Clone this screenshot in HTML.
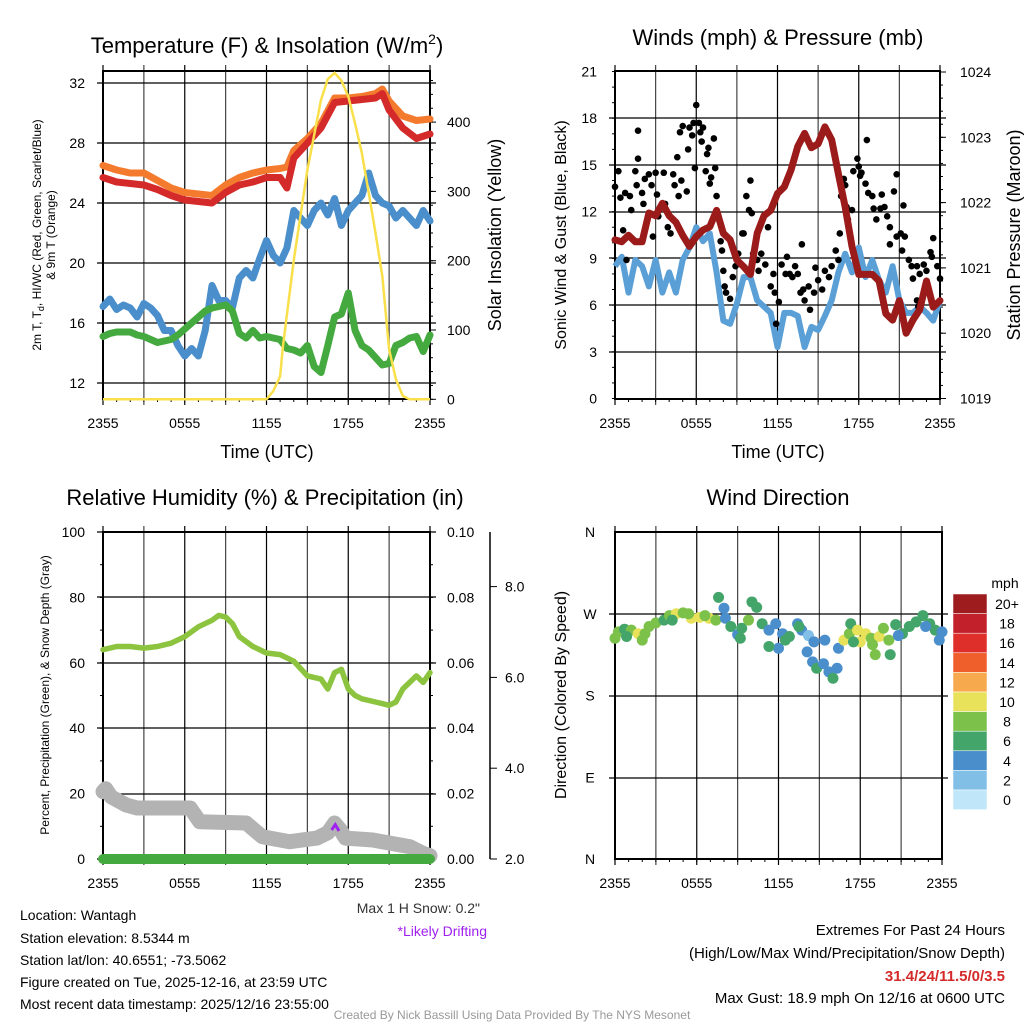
<!DOCTYPE html>
<html><head><meta charset="utf-8">
<style>
html,body{margin:0;padding:0;background:#fff;}
svg{display:block;font-family:"Liberation Sans",Arial,sans-serif;}
</style></head>
<body>
<svg id="s" width="1024" height="1024" viewBox="0 0 1024 1024" xmlns="http://www.w3.org/2000/svg">
<g id="texts">
<text x="267" y="53" font-size="22" text-anchor="middle">Temperature (F) &amp; Insolation (W/m<tspan dy="-9" font-size="14">2</tspan><tspan dy="9">)</tspan></text>
<text x="778" y="45" font-size="22" text-anchor="middle">Winds (mph) &amp; Pressure (mb)</text>
<text x="265" y="505" font-size="22" text-anchor="middle">Relative Humidity (%) &amp; Precipitation (in)</text>
<text x="778" y="505" font-size="22" text-anchor="middle">Wind Direction</text>
<text x="267" y="458" font-size="18" text-anchor="middle">Time (UTC)</text>
<text x="778" y="458" font-size="18" text-anchor="middle">Time (UTC)</text>
<text transform="translate(41,235) rotate(-90)" font-size="12" text-anchor="middle">2m T, T<tspan dy="3" font-size="9">d</tspan><tspan dy="-3">, HI/WC (Red, Green, Scarlet/Blue)</tspan></text>
<text transform="translate(55,235) rotate(-90)" font-size="12" text-anchor="middle">&amp; 9m T (Orange)</text>
<text transform="translate(501,235) rotate(-90)" font-size="18" text-anchor="middle">Solar Insolation (Yellow)</text>
<text transform="translate(566,235) rotate(-90)" font-size="16" text-anchor="middle">Sonic Wind &amp; Gust (Blue, Black)</text>
<text transform="translate(1020,235) rotate(-90)" font-size="18" text-anchor="middle">Station Pressure (Maroon)</text>
<text transform="translate(49,695) rotate(-90)" font-size="12" text-anchor="middle">Percent, Precipitation (Green), &amp; Snow Depth (Gray)</text>
<text transform="translate(566,695) rotate(-90)" font-size="16" text-anchor="middle">Direction (Colored By Speed)</text>
<text x="480" y="913" font-size="14" text-anchor="end" fill="#333">Max 1 H Snow: 0.2"</text>
<text x="487" y="936" font-size="14" text-anchor="end" fill="#a020f0">*Likely Drifting</text>
<text x="20" y="920" font-size="14">Location: Wantagh</text>
<text x="20" y="943" font-size="14">Station elevation: 8.5344 m</text>
<text x="20" y="965" font-size="14">Station lat/lon: 40.6551; -73.5062</text>
<text x="20" y="987" font-size="14">Figure created on Tue, 2025-12-16, at 23:59 UTC</text>
<text x="20" y="1009" font-size="14">Most recent data timestamp: 2025/12/16 23:55:00</text>
<text x="1005" y="935" font-size="15" text-anchor="end">Extremes For Past 24 Hours</text>
<text x="1005" y="958" font-size="15" text-anchor="end">(High/Low/Max Wind/Precipitation/Snow Depth)</text>
<text x="1005" y="981" font-size="15" font-weight="bold" text-anchor="end" fill="#d42a2a">31.4/24/11.5/0/3.5</text>
<text x="1005" y="1003" font-size="15" text-anchor="end">Max Gust: 18.9 mph On 12/16 at 0600 UTC</text>
<text x="512" y="1019" font-size="12" text-anchor="middle" fill="#999">Created By Nick Bassill Using Data Provided By The NYS Mesonet</text>
<text x="1005" y="588" font-size="14" text-anchor="middle">mph</text>
</g>
</svg>
<script>
// ---------- data ----------
const hours = [0,0.5,1,1.5,2,2.5,3,3.5,4,4.5,5,5.5,6,6.5,7,7.5,8,8.5,9,9.5,10,10.5,11,11.5,12,12.5,13,13.5,14,14.5,15,15.5,16,16.5,17,17.5,18,18.5,19,19.5,20,20.5,21,21.5,22,22.5,23,23.5,24];
const hourly = [0,1,2,3,4,5,6,7,8,9,10,11,12,13,13.5,14,15,16,17,18,19,20,20.5,21,22,23,24];
const temp9m = [26.5,26.2,26.0,26.0,25.5,25.0,24.7,24.6,24.5,25.2,25.7,26.0,26.2,26.3,26.4,27.5,28.3,29.3,31.0,31.0,31.1,31.3,31.6,30.8,29.8,29.5,29.6];
const temp2m = [25.7,25.4,25.3,25.2,24.9,24.5,24.2,24.1,24.0,24.7,25.2,25.4,25.7,25.7,25.0,27.0,28.0,29.0,30.7,30.8,30.9,31.0,31.3,30.2,29.0,28.3,28.6];
const windChill = [17.1,17.6,16.9,17.2,17.0,16.4,17.3,17.0,16.5,15.5,15.5,14.5,13.8,14.3,13.8,15.5,18.5,17.5,17.5,17.0,19.0,19.5,19.0,20.3,21.5,20.5,20.0,21.0,23.5,23.0,22.5,23.5,24.0,23.2,24.3,22.5,23.5,24.0,24.5,26.0,24.5,24.0,23.8,23.0,23.5,23.0,22.5,23.5,22.8];
const dewpoint = [15.1,15.3,15.4,15.4,15.4,15.2,15.1,14.9,14.7,14.8,14.9,15.2,15.6,16.0,16.4,16.8,17.0,17.1,17.2,16.8,15.3,15.0,15.5,15.0,15.1,15.0,14.9,14.3,14.2,14.0,14.5,13.1,12.7,14.5,16.4,16.6,18.0,15.5,14.5,14.2,13.7,13.2,13.3,14.5,14.7,15.0,15.1,14.1,15.2];
const solarT = [0,12,12.5,13,13.2,14,15,16,16.5,17,17.5,18,18.5,19,19.5,20,20.5,21,21.5,22,22.5,24];
const solarV = [0,0,12,33,76,201,331,432,462,471,460,437,398,355,298,240,178,72,29,5,0,0];
const windSpd = [8.5,9.1,6.8,8.9,8.5,7.2,8.9,6.8,8.1,6.8,8.9,9.7,11.0,10.1,10.6,8.1,5.0,4.8,6.1,7.8,7.8,6.3,5.9,5.5,3.3,5.5,5.5,5.3,3.3,4.6,4.4,5.3,6.3,8.1,9.3,8.1,9.7,7.8,8.9,7.6,6.8,8.5,6.3,5.5,5.5,5.9,5.5,5.0,6.3];
const pressure = [1021.43,1021.4,1021.5,1021.4,1021.4,1021.84,1021.8,1021.99,1021.8,1021.7,1021.5,1021.33,1021.48,1021.58,1021.63,1021.88,1021.53,1021.43,1021.12,1021.02,1020.9,1021.53,1021.8,1021.88,1022.14,1022.24,1022.5,1022.86,1023.06,1022.84,1022.9,1023.16,1022.96,1022.44,1021.93,1021.33,1020.9,1020.9,1020.9,1020.8,1020.3,1020.2,1020.5,1020.0,1020.2,1020.36,1020.8,1020.4,1020.5];
const gustT = [0,0.25,0.4,0.6,0.85,0.75,1.1,1.2,1.5,1.6,1.7,1.7,2.0,2.1,2.2,2.5,2.7,2.8,3.0,3.1,3.2,3.6,3.7,3.9,4.1,4.3,4.4,4.6,4.7,4.8,4.9,5.0,5.3,5.4,5.5,5.7,5.8,5.9,6.0,6.2,6.3,6.4,6.5,6.7,6.8,6.9,7.0,7.1,7.3,7.4,7.5,7.8,7.9,8.0,8.1,8.2,8.5,8.7,8.9,9.1,9.4,9.5,9.7,9.9,10.0,10.1,10.2,10.5,10.6,10.8,11.1,11.3,11.5,11.7,11.8,11.9,12.1,12.3,12.6,12.7,12.9,13.1,13.3,13.5,13.7,13.8,13.9,14.0,14.3,14.4,14.7,14.8,15.0,15.3,15.5,15.8,16.0,16.3,16.5,16.6,16.7,16.9,17.0,17.1,17.2,17.5,17.6,17.9,18.0,18.1,18.2,18.5,18.6,18.7,19.0,19.1,19.3,19.6,19.7,19.9,20.1,20.3,20.3,20.6,20.8,20.8,21.1,21.2,21.3,21.4,21.7,21.9,22.0,22.3,22.5,22.8,23.0,23.3,23.4,23.5,23.8,24,22.3,22.4];
const gustV = [13.6,14.6,12.9,10.8,8.9,13.2,13.0,12.1,14.6,13.7,17.2,15.4,13.2,12.5,14.1,14.4,13.7,10.4,14.5,13.1,11.7,14.5,12.5,11.0,10.6,14.4,13.7,15.5,13.0,17.1,14.0,17.5,13.3,16.0,17.4,16.9,17.7,14.8,18.85,17.7,17.1,16.5,17.4,14.6,15.7,16.1,13.8,14.2,16.7,14.8,13.0,10.1,9.5,8.2,7.2,6.8,6.4,7.8,8.5,9.3,10.6,10.6,13.0,12.1,14.0,11.9,9.3,8.9,8.2,9.3,8.6,11.0,7.2,8.0,6.8,4.8,6.2,8.6,8.0,9.1,8.0,7.8,8.5,8.0,6.8,9.9,7.0,6.3,7.2,5.7,6.8,8.4,7.6,7.0,8.2,7.8,8.5,9.5,8.9,10.6,13.0,14.1,13.7,12.3,11.5,12.1,14.6,15.4,14.9,14.3,14.5,13.8,16.6,13.2,13.0,12.2,11.5,12.2,13.1,12.3,11.7,11.0,9.9,13.3,14.4,10.4,10.6,9.5,12.4,10.4,8.9,8.5,7.7,8.5,8.0,8.6,8.2,9.4,9.1,10.3,8.5,7.7,6.3,5.9];
const rhT = [0,1,2,3,4,5,6,7,8,8.5,9,9.5,10,11,11.5,12,13,14,15,16,16.5,17,17.5,18,18.5,19,20,21,21.5,22,23,23.5,24];
const rhV = [64,65,65,64.5,65,66,68,71,73,74.5,74,72,68,65,64,63,62.5,60.5,56,55,52,57,58,52,50,49,48,47,48,52,56,54,57];
const snowT = [0,0.2,0.6,1.7,2.5,6.4,7.1,10.5,11.7,13.7,15.7,16.5,17.0,17.4,17.8,19.8,21.1,22.5,23.5,24];
const snowPct = [20.6,21.5,19,16.5,15.6,15.6,11.4,11,6.8,5.3,6.4,8,11,9,6.4,5.8,4.8,3.8,1.7,1.0];
const precipT = [0,24];
const precipV = [0,0];
const dirT = [0,0.25,0.7,1.2,1.7,2.2,2.5,3.0,3.6,4.0,4.5,5.0,5.6,6.2,6.9,7.4,7.6,8.0,8.1,8.5,9.0,9.3,9.8,10.05,10.4,10.8,11.3,11.8,12.0,11.3,12.3,12.8,13.4,13.7,14.2,14.6,14.1,14.5,14.8,15.3,15.4,15.7,16.0,16.3,16.4,16.8,17.2,17.3,17.8,18.0,18.4,18.8,19.1,19.4,19.7,20.1,20.2,20.6,21.1,21.6,22.1,22.6,23.1,23.5,23.8,24,0.85,2.0,4.2,5.4,6.6,9.2,12.5,13.5,17.5,18.9,20.8,22.8];
const dirDeg = [243,250,253,252,248,248,256,260,263,268,270,271,265,266,265,263,288,276,265,256,247,254,263,283,277,259,252,259,232,234,248,245,259,252,246,239,228,217,210,215,241,206,199,210,232,241,248,259,252,239,248,243,225,245,254,241,225,258,248,256,261,268,259,252,241,250,245,241,263,270,268,243,241,256,239,236,246,256];
const dirSpd = [9,9,7,9,11,9,9,9,7,9,11,9,11,11,11,9,7,5,5,7,5,7,9,7,7,7,5,5,5,7,5,7,5,5,3,5,5,5,7,5,5,5,7,5,5,11,9,7,11,11,11,9,9,11,9,9,7,7,7,7,7,7,7,7,5,5,7,9,7,9,9,7,7,7,7,9,5,5];
const cbLabels = ["20+","18","16","14","12","10","8","6","4","2","0"];
const cbColors = ["#9e1b1e","#c2202a","#df2f2a","#ef5f2c","#f7a94d","#e8e25a","#7cc149","#44a56a","#4a8fcb","#82bfe7","#bfe7f9"];

// ---------- helpers ----------
const NS = "http://www.w3.org/2000/svg";
const svg = document.getElementById('s');
function mk(tag, attrs, parent){
  const e = document.createElementNS(NS, tag);
  for (const k in attrs) e.setAttribute(k, attrs[k]);
  (parent||svg).appendChild(e);
  return e;
}
function grp(name){
  const g = mk('g', {});
  
  
  return g;
}
function txt(g, x, y, s, size, anchor){
  const t = mk('text', {x:x, y:y, 'font-size':size, 'text-anchor':anchor||'middle'}, g);
  t.textContent = s;
  return t;
}
function pathFrom(xs, ys, fx, fy){
  let d = '';
  for (let i=0;i<xs.length;i++) d += (i?'L':'M') + fx(xs[i]).toFixed(1) + ' ' + fy(ys[i]).toFixed(1);
  return d;
}

function panel(name, x0, x1, y0, y1){
  return {name, x0, x1, y0, y1, tx: t => x0 + t*(x1-x0)/24};
}
const P1 = panel('temp', 103, 430, 71, 399);
const P2 = panel('wind', 615, 940, 71, 399);
const P3 = panel('rh', 103, 430, 532, 859);
const P4 = panel('winddir', 615, 942, 532, 859);

function frame(P, ticksY){
  const g = grp(P.name + '-axes');
  for (let h=0; h<=24; h+=3){
    const x = P.tx(h);
    mk('line', {x1:x, y1:P.y0-6, x2:x, y2:P.y1+6, stroke: (h%6===0)?'#000':'#444', 'stroke-width':1.2}, g);
  }
  for (let h=0; h<=24; h++){
    const x = P.tx(h);
    mk('line', {x1:x, y1:P.y1, x2:x, y2:P.y1+3, stroke:'#000', 'stroke-width':1}, g);
  }
  ticksY.forEach(y => {
    mk('line', {x1:P.x0-6, y1:y, x2:P.x1+6, y2:y, stroke:'#000', 'stroke-width':1.3}, g);
  });
  mk('rect', {x:P.x0, y:P.y0, width:P.x1-P.x0, height:P.y1-P.y0, fill:'none', stroke:'#000', 'stroke-width':2}, g);
  const lab = ['2355','0555','1155','1755','2355'];
  lab.forEach((s,i) => {
    const t = txt(g, P.tx(i*6), P.y1 + 29, s, 14);
    
    
  });
  return g;
}

// ---------- Panel 1 ----------
const y1T = v => 383 - (v-12)*15;
const y1S = v => 399.3 - v*0.693;
{
  const g = frame(P1, [83,143,203,263,323,383]);
  [12,16,20,24,28,32].forEach(v => { const t=txt(g, 85, y1T(v)+5, String(v), 14, 'end');   });
  [0,100,200,300,400].forEach(v => {
    mk('line', {x1:P1.x1, y1:y1S(v), x2:P1.x1+6, y2:y1S(v), stroke:'#000'}, g);
    const t=txt(g, 447, y1S(v)+5, String(v), 14, 'start');  
  });
  for (let v=0; v<=460; v+=20){ mk('line', {x1:P1.x1, y1:y1S(v), x2:P1.x1+3, y2:y1S(v), stroke:'#000'}, g); }
  const series = [
    ['windchill-line', hours, windChill, '#4a8fcb', 7],
    ['dewpoint-line', hours, dewpoint, '#44aa3f', 7],
    ['temp9m-line', hourly, temp9m, '#f47b2e', 7],
    ['temp2m-line', hourly, temp2m, '#d42a2a', 7]
  ];
  series.forEach(s => {
    const p = mk('path', {d:pathFrom(s[1], s[2], P1.tx, y1T), fill:'none', stroke:s[3], 'stroke-width':s[4], 'stroke-linejoin':'round', 'stroke-linecap':'round'});
    
    
  });
  const sp = mk('path', {d:pathFrom(solarT, solarV, P1.tx, y1S), fill:'none', stroke:'#f9e04b', 'stroke-width':2.5});
  
  
}

// ---------- Panel 2 ----------
const y2W = v => 398.5 - v*15.57;
const y2P = v => 398.5 - (v-1019)*65.3;
{
  const g = frame(P2, [118,165,212,258,305,352]);
  for (let v=0; v<=21; v+=3){ const t=txt(g, 597, y2W(v)+5, String(v), 14, 'end');   }
  for (let v=1019; v<=1024; v++){
    mk('line', {x1:P2.x1, y1:y2P(v), x2:P2.x1+6, y2:y2P(v), stroke:'#000'}, g);
    const t=txt(g, 960, y2P(v)+5, String(v), 14, 'start');  
  }
  for (let v=1019; v<=1024; v+=0.2){ mk('line', {x1:P2.x1, y1:y2P(v), x2:P2.x1+3, y2:y2P(v), stroke:'#000'}, g); }
  for (let v=0; v<=21; v+=1){ mk('line', {x1:P2.x0-3, y1:y2W(v), x2:P2.x0, y2:y2W(v), stroke:'#000'}, g); }
  const wp = mk('path', {d:pathFrom(hours, windSpd, P2.tx, y2W), fill:'none', stroke:'#5a9fd6', 'stroke-width':6, 'stroke-linejoin':'round'});
  
  
  const gg = grp('gust-points');
  for (let i=0;i<gustT.length;i++){
    const c = mk('circle', {cx:P2.tx(gustT[i]), cy:y2W(gustV[i]), r:3.3, fill:'#000'}, gg);
    
    
  }
  const pp = mk('path', {d:pathFrom(hours, pressure, P2.tx, y2P), fill:'none', stroke:'#9b1a1a', 'stroke-width':7, 'stroke-linejoin':'round', 'stroke-linecap':'round'});
  
  
}

// ---------- Panel 3 ----------
const y3 = v => 859 - v*3.27;
const y3S = v => 859 - (v-2)*45.4;
{
  const g = frame(P3, [532,597,663,728,794,859]);
  for (let v=0; v<=100; v+=20){ const t=txt(g, 85, y3(v)+5, String(v), 14, 'end');   }
  ['0.00','0.02','0.04','0.06','0.08','0.10'].forEach((s,i) => { const t=txt(g, 447, y3(i*20)+5, s, 14, 'start');   });
  for (let v=0; v<=100; v+=10){ mk('line', {x1:P3.x1, y1:y3(v), x2:P3.x1+3, y2:y3(v), stroke:'#000'}, g); mk('line', {x1:P3.x0-3, y1:y3(v), x2:P3.x0, y2:y3(v), stroke:'#000'}, g); }
  const ax = grp('snow-depth-axis');
  mk('line', {x1:490, y1:532, x2:490, y2:859, stroke:'#000', 'stroke-width':1.5}, ax);
  for (let v=2; v<=9; v+=2){ mk('line', {x1:490, y1:y3S(v), x2:497, y2:y3S(v), stroke:'#000'}, ax); const t=txt(ax, 505, y3S(v)+5, v.toFixed(1), 14, 'start');   }
  const sp = mk('path', {d:pathFrom(snowT, snowPct, P3.tx, y3), fill:'none', stroke:'#b3b3b3', 'stroke-width':15, 'stroke-linejoin':'round', 'stroke-linecap':'round'});
  
  
  const dr = mk('path', {d:'M'+(P3.tx(17.0)-3)+' '+(y3(9.5)+2)+' L'+P3.tx(17.05)+' '+y3(10.5)+' L'+(P3.tx(17.1)+3)+' '+(y3(9.5)+3), fill:'none', stroke:'#a020f0', 'stroke-width':3});
  
  
  const pr = mk('path', {d:pathFrom(precipT, precipV, P3.tx, y3), fill:'none', stroke:'#44aa3f', 'stroke-width':10, 'stroke-linecap':'round'});
  
  
  const rh = mk('path', {d:pathFrom(rhT, rhV, P3.tx, y3), fill:'none', stroke:'#8cc43f', 'stroke-width':5.5, 'stroke-linejoin':'round', 'stroke-linecap':'round'});
  
  
}

// ---------- Panel 4 ----------
const y4 = d => 859 - d*327/360;
function spdColor(s){ const idx = Math.min(10, Math.floor(s/2)); return cbColors[10-idx]; }
{
  const g = frame(P4, [614,696,778]);
  [['N',360],['W',270],['S',180],['E',90],['N',0]].forEach(a => { const t=txt(g, 590, y4(a[1])+5, a[0], 14);   });
  const dg = grp('direction-points');
  for (let i=0;i<dirT.length;i++){
    const c = mk('circle', {cx:P4.tx(dirT[i]), cy:y4(dirDeg[i]), r:5.5, fill:spdColor(dirSpd[i])}, dg);
    
    
  }
  const cb = grp('speed-colorbar');
  cbLabels.forEach((s,i) => {
    const r = mk('rect', {x:953, y:594+i*19.6, width:34, height:19.6, fill:cbColors[i], stroke:'#fff', 'stroke-width':0.5}, cb);
    
    
    const t = txt(cb, 1007, 594+i*19.6+15, s, 14);
    
    
  });
}
</script>
</body></html>
